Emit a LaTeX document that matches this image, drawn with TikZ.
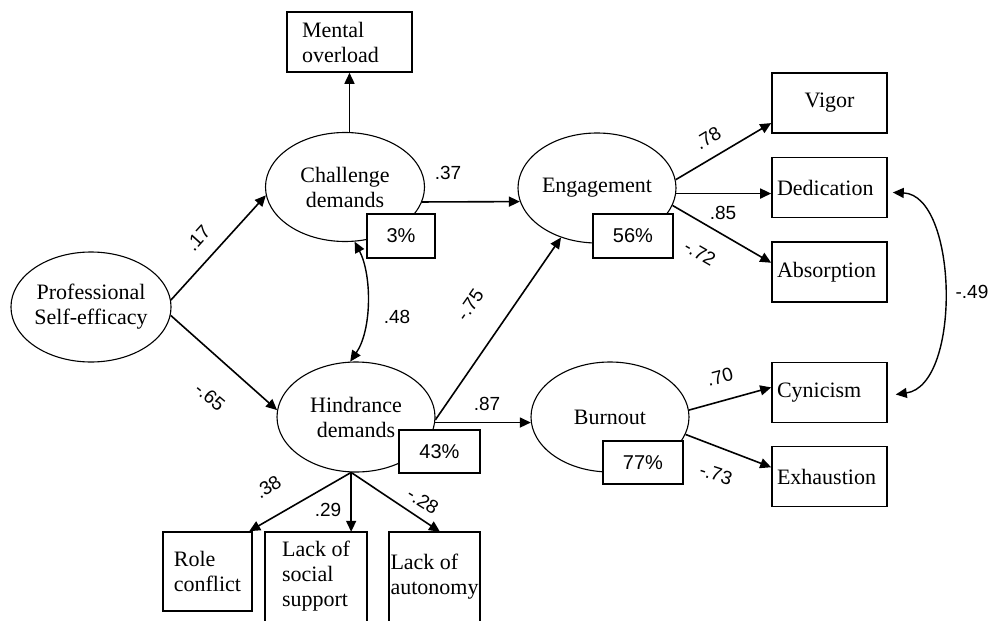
\documentclass[tikz,border=0pt]{standalone}
\usepackage{fontspec}
\setmainfont{Liberation Serif}
\newfontfamily\numfont{Liberation Sans}
\usetikzlibrary{shapes.geometric,arrows.meta}
\begin{document}
\begin{tikzpicture}[x=1pt,y=-1pt,
 every node/.style={font=\fontsize{22}{25}\selectfont},
 lat/.style={ellipse,draw,line width=1.1pt,inner sep=0pt,minimum width=158pt,minimum height=110pt,align=center},
 obs/.style={rectangle,draw,line width=1.6pt,inner sep=0pt,align=center},
 rbox/.style={obs,minimum width=115pt,minimum height=60pt,text width=105pt,inner xsep=5pt,align=left},
 opbox/.style={inner sep=0pt,align=left,minimum height=89pt},
 pct/.style={rectangle,draw,fill=white,line width=1.4pt,inner sep=0pt,font=\numfont\fontsize{20}{24}\selectfont},
 coef/.style={inner sep=0pt,font=\numfont\fontsize{19}{22}\selectfont},
 arr/.style={-{Triangle[length=11pt,width=10pt]},line width=1.6pt},
 dbl/.style={{Triangle[length=11pt,width=10pt]}-{Triangle[length=11pt,width=10pt]},line width=1.4pt}
]
\fill[white] (0,0) rectangle (994,621);
\path[use as bounding box] (0,0) rectangle (994,621);

% latent variables
\node[lat] (pr) at (91,307) {Professional\\Self-efficacy};
\node[lat,minimum width=159pt,minimum height=109pt] (ch) at (345,187) {Challenge\\demands};
\node[lat] (hi) at (356,417) {Hindrance\\demands};
\node[lat] (en) at (597,188) {Engagement};
\node[lat] (bu) at (610,417) {Burnout};

% observed variables
\node[obs,minimum width=125pt,minimum height=60pt,text width=95pt,inner xsep=15pt,align=left] (mo) at (349.5,42) {Mental\\overload};
\node[rbox,align=center] (vi) at (829.5,103) {Vigor};
\node[rbox] (de) at (829.5,187.5) {Dedication};
\node[rbox] (ab) at (829.5,272) {Absorption};
\node[rbox] (cy) at (829.5,392.5) {Cynicism};
\node[rbox] (ex) at (829.5,476.5) {Exhaustion};
\node[obs,minimum width=89pt,minimum height=79pt,align=left] (rc) at (207.5,571.5) {Role\\conflict};
\node[opbox,minimum width=102pt] (ss) at (316,576.5) {Lack of\\social\\support};
\node[opbox,minimum width=91pt] (au) at (434.5,576.5) {Lack of\\autonomy};
\draw[line width=1.6pt] (ss.south west) -- (ss.north west) -- (ss.north east) -- (ss.south east);
\draw[line width=1.6pt] (au.south west) -- (au.north west) -- (au.north east) -- (au.south east);

% paths
\draw[arr] (pr.5) -- (ch.186);
\draw[arr] (pr.354) -- (hi.175);
\draw[arr] (ch.north -| mo.south) -- (mo.south);
\draw[arr] (ch.349) -- (en.190);
\draw[arr] (hi.358) -- (en.234);
\draw[arr] (hi.356) -- (bu.184);
\draw[arr] (en.6) -- (vi.199);
\draw[arr] (en.356) -- (en.356 -| de.west);
\draw[arr] (en.347) -- (ab.171);
\draw[arr] (bu.5) -- (cy.175);
\draw[arr] (bu.347) -- (ex.171);
\draw[arr] (hi.265) -- (rc.44);
\draw[arr] (hi.265) -- (hi.265 |- ss.north);
\draw[arr] (hi.265) -- ([xshift=5.5pt]au.north);

% correlations
\draw[dbl] (ch.280) .. controls (372,275) and (372,330) .. (hi.96);
\draw[dbl] ([shift={(5,5)}]de.east) .. controls (958,195) and (962,385) .. ([shift={(8,2)}]cy.east);

% explained variance
\node[pct,minimum width=68pt,minimum height=44pt] (p1) at (401,236) {3\%};
\node[pct,minimum width=80pt,minimum height=44pt] (p2) at (633,236) {56\%};
\node[pct,minimum width=81pt,minimum height=43pt] (p3) at (439.5,451.5) {43\%};
\node[pct,minimum width=80pt,minimum height=43pt] (p4) at (643,462.5) {77\%};

% coefficients
\node[coef,rotate=48] at (198,238) {.17};
\node[coef,rotate=-40] at (210,397) {-.65};
\node[coef] at (448,173) {.37};
\node[coef] at (397,317) {.48};
\node[coef,rotate=55] at (470,305) {-.75};
\node[coef] at (487,404) {.87};
\node[coef,rotate=31] at (708,138) {.78};
\node[coef] at (723,213) {.85};
\node[coef,rotate=-30] at (700,253) {-.72};
\node[coef] at (972,292) {-.49};
\node[coef,rotate=15] at (720,377) {.70};
\node[coef,rotate=-18] at (716,474) {-.73};
\node[coef,rotate=33] at (268,487) {.38};
\node[coef] at (328,510) {.29};
\node[coef,rotate=-32] at (423,501) {-.28};
\end{tikzpicture}
\end{document}
